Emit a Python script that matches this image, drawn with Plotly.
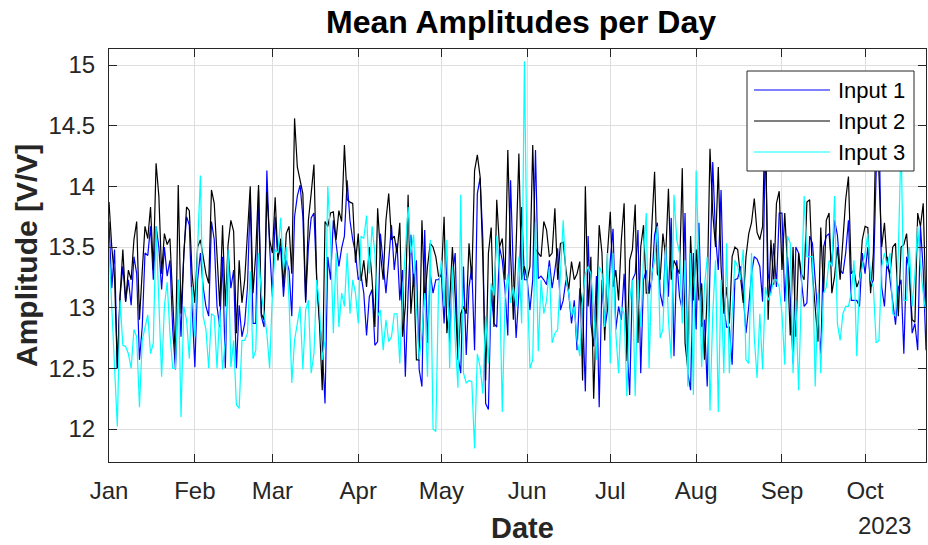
import pandas as pd
import plotly.graph_objects as go

# Daily mean amplitudes, 1 Jan 2023 onward (one value per day)
input1 = [
    # Jan
    13.71, 13.16, 13.48, 12.50, 13.09, 13.34, 13.05, 13.23, 13.02, 13.42,
    13.28, 12.57, 12.84, 13.45, 13.43, 13.67, 13.23, 13.67, 13.50, 13.15,
    13.50, 13.26, 13.39, 12.82, 12.49, 13.23, 12.76, 13.45, 13.75, 13.68, 13.01,
    # Feb
    12.51, 13.23, 13.45, 13.17, 13.01, 12.93, 13.71, 13.56, 13.01, 12.84,
    13.42, 12.50, 13.48, 13.16, 13.31, 12.50, 13.02, 12.76, 12.87, 13.17,
    13.92, 12.87, 12.87, 13.97, 12.93, 12.84, 14.13, 13.50,
    # Mar
    13.09, 13.75, 13.42, 13.50, 13.09, 13.39, 13.31, 12.93, 13.75, 13.92,
    14.01, 13.75, 13.04, 13.50, 13.74, 13.78, 13.23, 12.90, 12.68, 12.21,
    13.42, 13.23, 13.72, 13.53, 13.34, 13.49, 13.59, 14.05, 13.72, 13.56, 13.45,
    # Apr
    13.23, 13.27, 13.12, 12.77, 13.09, 13.15, 12.69, 12.72, 13.61, 13.39,
    13.12, 13.39, 13.68, 13.31, 13.53, 13.06, 13.31, 12.43, 13.12, 13.60,
    13.17, 13.39, 12.49, 12.35, 13.64, 12.71, 13.28, 13.12, 13.23, 13.23,
    # May
    13.28, 12.87, 13.42, 12.71, 13.28, 13.45, 12.60, 12.46, 13.34, 12.61,
    13.17, 13.34, 12.65, 13.94, 14.07, 13.56, 12.21, 12.16, 13.15, 12.87,
    12.84, 13.50, 13.39, 13.15, 12.77, 14.05, 13.28, 12.75, 13.12, 13.83, 13.23,
    # Jun
    13.23, 12.98, 13.23, 14.30, 13.24, 13.26, 13.23, 13.19, 13.39, 13.16,
    13.31, 13.49, 12.98, 13.06, 13.23, 13.12, 12.87, 13.06, 12.65, 13.16,
    13.01, 12.31, 13.59, 12.87, 12.68, 13.26, 12.18, 13.23, 12.82, 12.98,
    # Jul
    13.39, 13.65, 12.82, 13.01, 12.90, 13.28, 12.72, 12.28, 13.23, 13.28,
    13.64, 12.46, 13.23, 13.31, 13.12, 13.23, 13.60, 13.70, 13.12, 13.01,
    13.50, 13.09, 13.74, 12.60, 13.39, 13.09, 12.98, 13.78, 12.46, 12.32, 13.45,
    # Aug
    12.82, 13.70, 12.84, 12.90, 12.35, 13.31, 14.20, 13.59, 13.31, 13.97,
    13.01, 12.84, 12.84, 12.53, 13.23, 13.24, 13.34, 13.12, 12.79, 13.01,
    13.28, 13.42, 13.40, 13.34, 13.05, 14.38, 13.28, 13.12, 13.53, 13.17, 13.78,
    # Sep
    13.78, 13.05, 13.42, 13.09, 12.54, 13.50, 13.45, 13.23, 13.01, 13.04,
    13.59, 13.53, 13.23, 12.90, 12.62, 13.50, 13.59, 13.61, 13.34, 13.72,
    13.60, 13.31, 13.28, 13.45, 13.72, 13.06, 13.06, 13.06, 13.01, 13.45,
    # Oct
    13.28, 13.50, 13.17, 13.23, 14.11, 14.60, 13.17, 13.01, 13.42, 13.23,
    13.06, 12.86, 13.16, 13.23, 12.62, 13.42, 13.31, 12.79, 12.87, 12.65,
    13.67, 13.31, 12.65,
]

input2 = [
    # Jan
    13.87, 13.50, 13.25, 12.50, 13.10, 13.48, 13.05, 13.31, 13.23, 13.56,
    13.71, 12.90, 13.30, 13.67, 13.57, 13.83, 13.31, 14.19, 13.92, 13.28,
    13.61, 13.52, 13.57, 13.01, 12.57, 14.01, 12.95, 13.42, 13.83, 13.80, 13.28,
    # Feb
    13.04, 13.50, 13.56, 13.42, 13.28, 13.20, 13.97, 13.86, 13.48, 13.01,
    13.68, 13.01, 13.52, 13.72, 13.63, 12.79, 13.39, 13.04, 13.23, 13.67,
    14.00, 13.12, 13.45, 14.01, 12.95, 12.90, 13.95, 13.56,
    # Mar
    13.45, 13.91, 13.39, 13.57, 13.17, 13.61, 13.67, 13.28, 14.56, 14.16,
    14.05, 13.94, 13.06, 13.72, 13.94, 14.18, 13.23, 12.87, 12.32, 13.71,
    13.67, 13.78, 13.79, 13.56, 13.80, 13.71, 14.34, 13.89, 13.87, 13.86, 13.37,
    # Apr
    13.61, 13.22, 13.39, 13.17, 13.50, 13.23, 12.84, 13.82, 13.45, 13.23,
    13.72, 13.94, 13.56, 13.59, 13.45, 13.70, 12.76, 13.01, 13.93, 12.95,
    13.28, 12.57, 12.57, 13.72, 13.06, 13.34, 13.53, 13.50, 13.42, 13.26,
    # May
    13.26, 13.75, 12.79, 13.04, 13.50, 13.09, 12.57, 12.95, 13.01, 12.95,
    13.53, 13.23, 14.13, 14.26, 14.08, 13.39, 12.40, 13.45, 13.66, 12.84,
    13.89, 13.50, 13.57, 13.23, 14.30, 13.45, 12.90, 13.50, 14.27, 13.23, 13.34,
    # Jun
    13.23, 13.34, 14.34, 13.48, 13.45, 13.42, 13.71, 13.64, 13.42, 13.45,
    13.82, 13.23, 13.53, 13.54, 13.31, 13.15, 13.38, 13.23, 13.28, 13.38,
    12.40, 14.00, 13.01, 13.42, 12.25, 13.01, 13.68, 13.45, 12.73, 13.45,
    # Jul
    13.79, 13.17, 13.31, 13.06, 13.56, 13.86, 12.56, 13.39, 13.48, 13.85,
    12.71, 13.50, 13.68, 13.12, 13.12, 13.67, 14.12, 13.28, 13.23, 13.61,
    13.42, 13.98, 13.23, 13.39, 13.34, 13.28, 14.15, 12.71, 12.49, 13.59, 13.06,
    # Aug
    13.48, 13.06, 13.20, 12.57, 13.12, 14.31, 13.78, 13.50, 14.16, 13.34,
    12.95, 13.17, 12.87, 13.42, 13.50, 13.48, 13.28, 13.04, 13.42, 13.61,
    13.70, 13.90, 13.62, 13.56, 13.67, 14.66, 12.90, 13.56, 13.19, 13.86, 13.96,
    # Sep
    13.31, 13.78, 13.34, 12.77, 13.50, 12.76, 13.45, 13.28, 13.23, 13.87,
    13.89, 13.28, 13.01, 12.72, 13.66, 13.12, 13.72, 13.78, 13.12, 13.26,
    13.50, 13.23, 13.56, 13.89, 14.08, 13.28, 13.31, 13.17, 13.23, 13.56,
    # Oct
    13.67, 13.66, 13.12, 13.45, 14.55, 14.11, 13.50, 13.70, 13.34, 13.28,
    13.50, 13.53, 12.93, 13.50, 13.52, 13.61, 13.28, 12.90, 12.88, 13.78,
    13.67, 13.86, 12.98,
]

input3 = [
    # Jan
    13.50, 13.01, 12.57, 12.02, 13.06, 12.69, 12.68, 12.62, 12.50, 12.82,
    12.76, 12.18, 12.73, 12.84, 12.94, 12.62, 12.71, 13.67, 13.01, 12.43,
    13.01, 13.21, 12.79, 12.50, 12.50, 13.23, 12.10, 13.01, 12.90, 12.58, 13.17,
    # Feb
    12.76, 13.50, 14.09, 12.93, 12.82, 12.50, 12.95, 12.93, 12.50, 12.98,
    12.49, 12.73, 13.48, 12.51, 12.73, 12.20, 12.17, 12.73, 12.73, 12.79,
    13.30, 12.58, 12.65, 13.45, 13.12, 12.95, 12.79, 12.50,
    # Mar
    13.12, 13.48, 13.45, 13.74, 13.31, 13.50, 13.06, 12.38, 12.73, 12.87,
    13.01, 12.49, 12.98, 13.06, 12.46, 12.62, 13.23, 13.01, 12.57, 12.73,
    14.00, 13.56, 12.79, 13.45, 12.84, 13.12, 13.01, 13.45, 12.95, 13.23, 13.12,
    # Apr
    12.87, 13.59, 13.57, 13.76, 13.28, 13.67, 13.45, 12.93, 12.98, 12.65,
    12.90, 12.72, 12.76, 12.95, 12.95, 12.54, 13.12, 13.50, 13.83, 13.45,
    13.60, 13.01, 12.57, 12.79, 13.12, 12.43, 13.56, 12.00, 11.98, 13.17,
    # May
    13.39, 13.01, 13.56, 12.50, 13.34, 12.73, 12.34, 13.93, 12.46, 12.38,
    12.40, 12.39, 11.84, 12.62, 12.51, 12.29, 12.93, 12.54, 13.20, 13.10,
    13.59, 13.28, 12.14, 13.06, 13.28, 13.04, 13.17, 13.01, 13.42, 12.87, 15.03,
    # Jun
    13.23, 12.50, 12.57, 13.71, 12.64, 13.23, 12.95, 13.06, 13.34, 12.71,
    12.79, 12.82, 13.28, 13.72, 13.23, 13.12, 12.93, 13.01, 12.73, 12.60,
    13.06, 13.28, 13.34, 13.28, 12.98, 12.57, 13.34, 13.28, 12.84, 13.45,
    # Jul
    12.54, 13.45, 12.79, 12.46, 13.01, 12.95, 12.27, 13.06, 13.23, 12.27,
    13.23, 12.84, 13.42, 13.78, 12.50, 13.28, 13.39, 13.67, 12.75, 12.82,
    13.50, 12.90, 12.58, 13.93, 13.56, 13.45, 12.87, 13.39, 12.35, 13.45, 12.28,
    # Aug
    14.13, 13.39, 12.51, 13.17, 13.42, 12.15, 12.95, 13.39, 12.14, 13.23,
    12.46, 13.53, 12.46, 12.95, 13.39, 13.34, 13.23, 13.48, 12.57, 12.54,
    13.45, 12.75, 12.42, 12.95, 12.49, 13.17, 13.06, 13.12, 13.23, 13.23, 13.17,
    # Sep
    12.95, 12.53, 13.59, 13.53, 12.46, 13.06, 12.32, 13.15, 13.92, 13.42,
    13.42, 13.42, 12.35, 13.12, 12.46, 13.12, 13.17, 13.39, 13.34, 13.92,
    12.87, 12.73, 12.95, 13.01, 13.01, 13.12, 13.39, 12.60, 13.23, 13.34,
    # Oct
    13.45, 13.61, 13.23, 13.17, 12.71, 12.73, 13.34, 13.45, 13.34, 13.45,
    12.95, 12.93, 13.45, 14.38, 13.06, 13.06, 13.50, 13.01, 13.28, 13.67,
    13.34, 13.12, 12.95,
]

series_names = ["Input 1", "Input 2", "Input 3"]
series_colors = ["#0000ff", "#000000", "#00ffff"]

month_starts = ["2023-01-01", "2023-02-01", "2023-03-01", "2023-04-01", "2023-05-01",
                "2023-06-01", "2023-07-01", "2023-08-01", "2023-09-01", "2023-10-01"]
month_labels = ["Jan", "Feb", "Mar", "Apr", "May", "Jun", "Jul", "Aug", "Sep", "Oct"]

y_tick_values = [12, 12.5, 13, 13.5, 14, 14.5, 15]
y_tick_labels = ["12", "12.5", "13", "13.5", "14", "14.5", "15"]

# ---- page geometry (pixels) ----
W, H = 928, 545
L, R, T, B = 109, 2, 49, 83
PW, PH = W - L - R, H - T - B

FONT = "Liberation Sans, Arial, Helvetica, sans-serif"
AX = "#262626"


def px(x):
    """Horizontal page pixel -> paper coordinate."""
    return (x - L) / PW


def py(y):
    """Vertical page pixel -> paper coordinate."""
    return (H - B - y) / PH


fig = go.Figure()
for name, vals, color in zip(series_names, [input1, input2, input3], series_colors):
    dates = pd.date_range("2023-01-01", periods=len(vals), freq="D")
    fig.add_trace(go.Scatter(x=dates, y=vals, mode="lines", name=name,
                             line=dict(color=color, width=1.2), showlegend=False))

axis_common = dict(
    showline=True, linecolor=AX, linewidth=1, mirror="ticks",
    ticks="inside", ticklen=8, tickwidth=1, tickcolor=AX,
    showgrid=True, gridcolor="#dfdfdf", gridwidth=1, zeroline=False,
    tickfont=dict(family=FONT, size=24, color=AX),
)

fig.update_xaxes(
    type="date", range=["2023-01-01", "2023-10-23"],
    tickmode="array", tickvals=month_starts, ticktext=month_labels,
    ticklabelstandoff=7, **axis_common,
)
fig.update_yaxes(
    range=[11.728, 15.132],
    tickmode="array", tickvals=y_tick_values, ticktext=y_tick_labels,
    ticklabelstandoff=8, **axis_common,
)

annotations = [
    dict(text="<b>Mean Amplitudes per Day</b>", x=px(521), y=py(22), xref="paper", yref="paper",
         xanchor="center", yanchor="middle", showarrow=False,
         font=dict(family=FONT, size=32, color="#000000")),
    dict(text="<b>Date</b>", x=px(522), y=py(528), xref="paper", yref="paper",
         xanchor="center", yanchor="middle", showarrow=False,
         font=dict(family=FONT, size=29, color=AX)),
    dict(text="<b>Amplitude [V/V]</b>", x=px(26), y=py(256), xref="paper", yref="paper",
         xanchor="center", yanchor="middle", showarrow=False, textangle=-90,
         font=dict(family=FONT, size=30, color=AX)),
    dict(text="2023", x=px(884), y=py(525), xref="paper", yref="paper",
         xanchor="center", yanchor="middle", showarrow=False,
         font=dict(family=FONT, size=24, color=AX)),
]

# legend box drawn above the lines
shapes = [
    dict(type="rect", xref="paper", yref="paper", x0=px(747), x1=px(914), y0=py(171), y1=py(71),
         fillcolor="#ffffff", line=dict(color=AX, width=1), layer="above"),
]
legend_rows = [90, 121, 152]
for name, color, ry in zip(series_names, series_colors, legend_rows):
    shapes.append(dict(type="line", xref="paper", yref="paper", x0=px(754), x1=px(830),
                       y0=py(ry), y1=py(ry), line=dict(color=color, width=1.2), layer="above"))
    annotations.append(dict(text=name, x=px(836), y=py(ry), xref="paper", yref="paper",
                            xanchor="left", yanchor="middle", showarrow=False,
                            font=dict(family=FONT, size=22, color="#000000")))

fig.update_layout(
    width=W, height=H, margin=dict(l=L, r=R, t=T, b=B, pad=0),
    paper_bgcolor="#ffffff", plot_bgcolor="#ffffff",
    annotations=annotations, shapes=shapes, showlegend=False,
)

fig.write_html("out.html")
